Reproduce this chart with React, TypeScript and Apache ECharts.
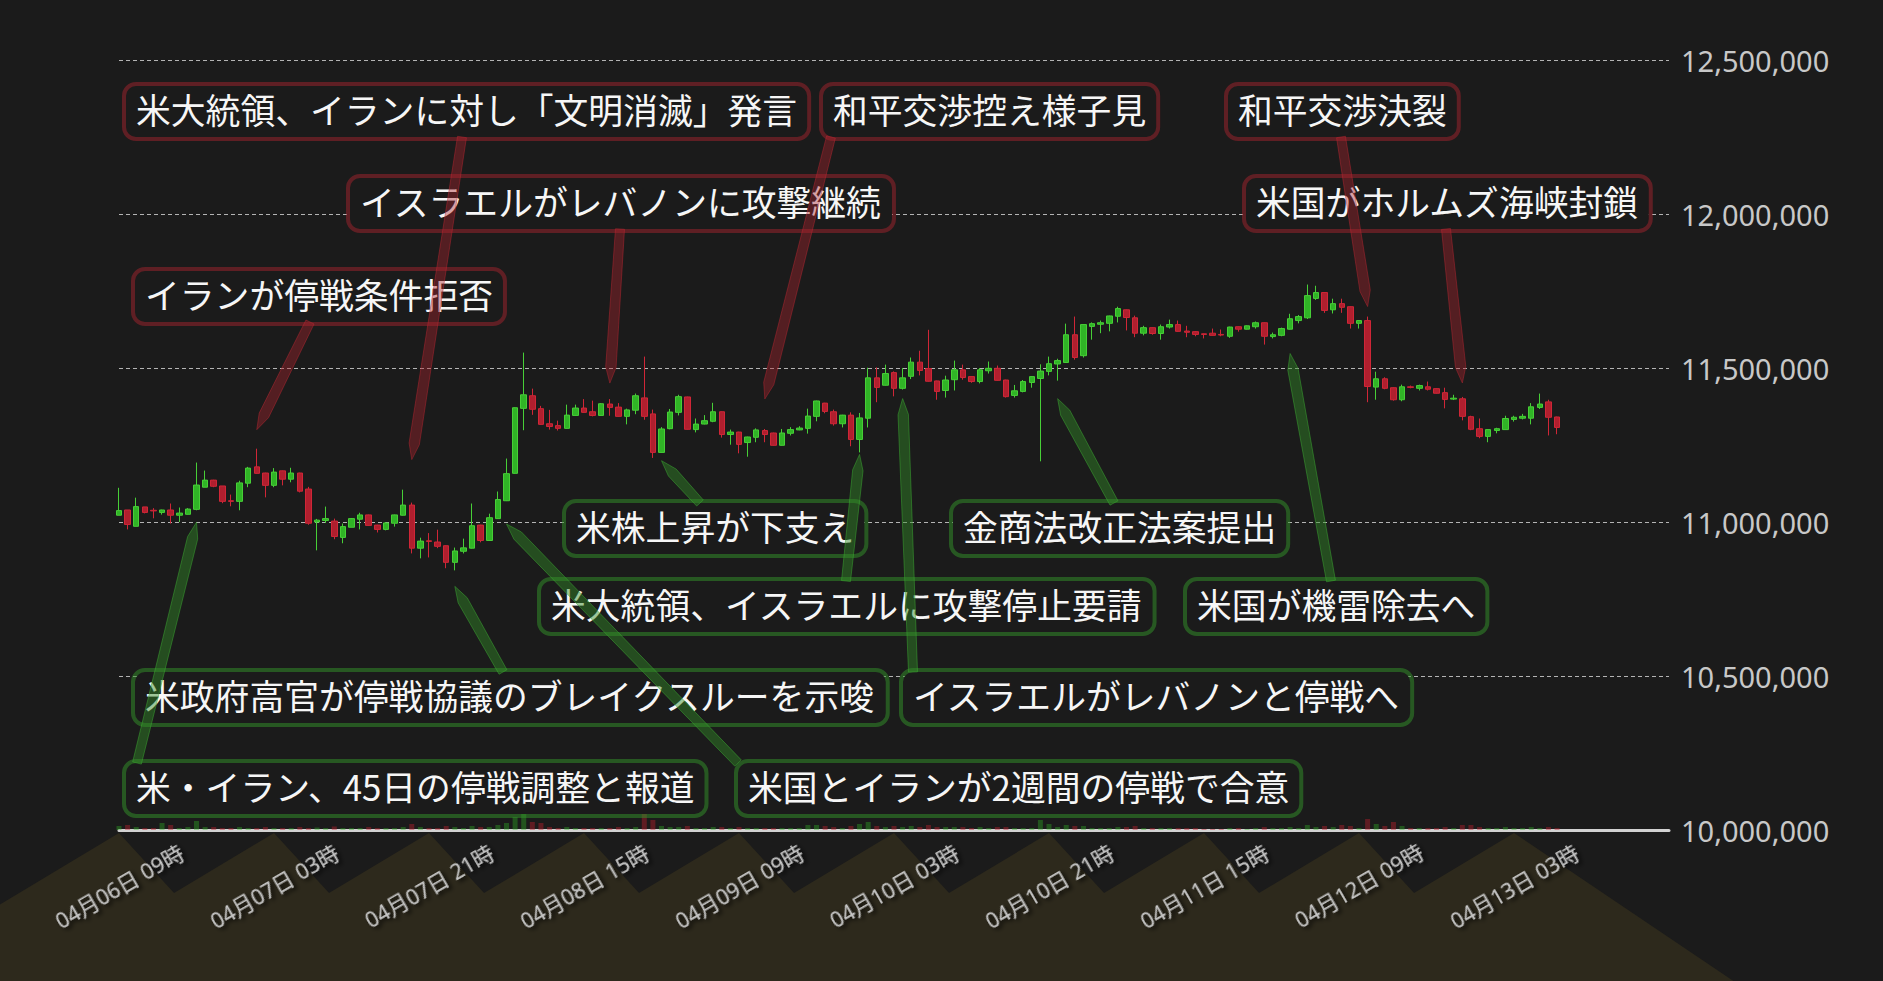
import React, { useEffect, useRef } from 'react';
import * as echarts from 'echarts';

// ---- time axis (hourly, JST) ----
const pad = (n: number) => (n < 10 ? '0' + n : '' + n);
const categories: string[] = [];
for (let k = 0; k <= 180; k++) {
  const d = new Date(Date.UTC(2026, 3, 6, 9 + k));
  categories.push(`${pad(d.getUTCMonth() + 1)}月${pad(d.getUTCDate())}日 ${pad(d.getUTCHours())}時`);
}
const labelEvery = 18;
const lastLabelIndex = 162;

// ---- price ticks ----
const yMin = 10000000;
const yMax = 12500000;
const yStep = 500000;

// ---- OHLC (thousand JPY) ----
const opens = [
  11022, 11039, 10986, 11049, 11038, 11031, 11039, 11022, 11025, 11041,
  11113, 11136, 11117, 11069, 11067, 11126, 11179, 11159, 11119, 11166,
  11139, 11159, 11107, 11000, 11005, 11003, 10950, 10983, 11009, 11023,
  10990, 10976, 10996, 11022, 11055, 10915, 10939, 10935, 10923, 10869,
  10905, 10915, 10990, 10940, 11011, 11069, 11158, 11369, 11410, 11368,
  11319, 11313, 11304, 11346, 11370, 11358, 11346, 11383, 11373, 11343,
  11363, 11403, 11351, 11226, 11303, 11356, 11406, 11300, 11318, 11327,
  11358, 11284, 11292, 11258, 11275, 11297, 11289, 11249, 11288, 11299,
  11304, 11343, 11386, 11358, 11319, 11347, 11268, 11337, 11468, 11444,
  11485, 11434, 11473, 11519, 11498, 11458, 11427, 11462, 11494, 11472,
  11456, 11491, 11499, 11461, 11411, 11424, 11453, 11466, 11489, 11513,
  11518, 11608, 11540, 11635, 11642, 11645, 11668, 11689, 11663, 11613,
  11631, 11612, 11633, 11641, 11620, 11618, 11611, 11613, 11609, 11603,
  11634, 11626, 11634, 11647, 11602, 11606, 11626, 11654, 11663, 11726,
  11745, 11689, 11709, 11699, 11645, 11654, 11438, 11465, 11436, 11397,
  11439, 11434, 11439, 11433, 11420, 11399, 11400, 11342, 11303, 11278,
  11297, 11300, 11333, 11337, 11337, 11372, 11390, 11341,
];
const closes = [
  11037, 10992, 11050, 11031, 11036, 11039, 11022, 11029, 11042, 11120,
  11136, 11116, 11067, 11067, 11127, 11175, 11158, 11119, 11162, 11139,
  11159, 11100, 10996, 11006, 11011, 10953, 10985, 11011, 11023, 10989,
  10976, 10997, 11023, 11055, 10915, 10938, 10937, 10921, 10869, 10906,
  10916, 10988, 10940, 11014, 11073, 11157, 11371, 11413, 11366, 11317,
  11310, 11304, 11347, 11370, 11356, 11346, 11384, 11372, 11343, 11364,
  11410, 11343, 11226, 11302, 11357, 11407, 11301, 11318, 11329, 11358,
  11284, 11292, 11252, 11276, 11299, 11284, 11249, 11289, 11300, 11305,
  11344, 11393, 11359, 11319, 11347, 11268, 11338, 11468, 11437, 11482,
  11434, 11468, 11519, 11492, 11457, 11424, 11461, 11494, 11469, 11456,
  11494, 11499, 11460, 11407, 11426, 11456, 11472, 11490, 11514, 11524,
  11608, 11534, 11641, 11644, 11647, 11669, 11693, 11664, 11613, 11631,
  11612, 11634, 11641, 11619, 11616, 11609, 11609, 11606, 11607, 11633,
  11626, 11637, 11647, 11603, 11608, 11628, 11660, 11667, 11735, 11745,
  11687, 11709, 11697, 11645, 11654, 11440, 11465, 11434, 11397, 11439,
  11437, 11443, 11431, 11418, 11398, 11402, 11343, 11301, 11278, 11300,
  11303, 11336, 11340, 11343, 11374, 11383, 11340, 11307,
];
const lows = [
  11022, 10976, 10986, 11028, 11012, 11024, 10995, 11000, 11024, 11038,
  11113, 11113, 11061, 11051, 11038, 11113, 11157, 11080, 11113, 11119,
  11129, 11096, 10991, 10908, 10997, 10944, 10931, 10983, 10976, 10988,
  10966, 10973, 10985, 11021, 10898, 10882, 10885, 10915, 10850, 10843,
  10898, 10914, 10934, 10939, 11010, 11068, 11157, 11298, 11348, 11316,
  11300, 11297, 11303, 11345, 11355, 11343, 11345, 11345, 11342, 11317,
  11350, 11332, 11208, 11225, 11301, 11346, 11300, 11291, 11317, 11324,
  11274, 11251, 11223, 11212, 11259, 11259, 11248, 11248, 11281, 11298,
  11287, 11327, 11353, 11313, 11307, 11246, 11226, 11307, 11389, 11443,
  11408, 11430, 11464, 11476, 11456, 11397, 11404, 11427, 11462, 11452,
  11450, 11482, 11459, 11404, 11404, 11421, 11436, 11197, 11476, 11459,
  11517, 11527, 11534, 11592, 11613, 11619, 11648, 11622, 11600, 11606,
  11608, 11592, 11628, 11618, 11600, 11603, 11596, 11605, 11603, 11598,
  11618, 11625, 11628, 11576, 11596, 11603, 11625, 11645, 11659, 11721,
  11679, 11677, 11679, 11628, 11628, 11389, 11397, 11431, 11394, 11392,
  11434, 11427, 11427, 11417, 11369, 11396, 11330, 11298, 11272, 11259,
  11288, 11299, 11326, 11333, 11317, 11367, 11281, 11285,
];
const highs = [
  11111, 11039, 11079, 11049, 11045, 11040, 11060, 11047, 11045, 11193,
  11167, 11137, 11117, 11089, 11134, 11179, 11238, 11160, 11175, 11167,
  11176, 11160, 11114, 11010, 11050, 11011, 10995, 11013, 11030, 11024,
  10991, 10999, 11024, 11105, 11063, 10949, 10964, 10975, 10924, 10917,
  10946, 11060, 10991, 11027, 11099, 11206, 11372, 11550, 11433, 11377,
  11364, 11329, 11381, 11381, 11399, 11394, 11386, 11399, 11386, 11368,
  11417, 11537, 11365, 11308, 11367, 11413, 11407, 11336, 11347, 11387,
  11359, 11300, 11293, 11277, 11304, 11302, 11290, 11302, 11308, 11311,
  11368, 11394, 11387, 11365, 11348, 11356, 11354, 11501, 11502, 11511,
  11489, 11500, 11534, 11556, 11624, 11459, 11475, 11524, 11511, 11473,
  11500, 11521, 11508, 11462, 11445, 11461, 11473, 11512, 11537, 11530,
  11644, 11667, 11642, 11648, 11654, 11670, 11699, 11690, 11670, 11637,
  11632, 11641, 11657, 11654, 11637, 11620, 11612, 11628, 11625, 11634,
  11635, 11638, 11651, 11648, 11615, 11631, 11676, 11672, 11771, 11767,
  11746, 11725, 11725, 11700, 11655, 11667, 11488, 11470, 11437, 11446,
  11443, 11446, 11456, 11434, 11436, 11413, 11406, 11345, 11336, 11301,
  11306, 11345, 11345, 11351, 11386, 11417, 11397, 11342,
];
// ---- hourly volume ----
const volumes = [
  40, 50, 30, 20, 20, 70, 50, 20, 30, 90,
  30, 30, 20, 20, 30, 20, 20, 30, 20, 20,
  20, 30, 20, 25, 20, 35, 20, 20, 20, 30,
  20, 20, 20, 30, 60, 30, 20, 20, 40, 30,
  20, 40, 30, 30, 50, 70, 130, 190, 80, 70,
  30, 20, 30, 20, 20, 20, 20, 20, 30, 20,
  30, 170, 100, 40, 30, 30, 40, 20, 20, 30,
  30, 20, 30, 20, 20, 20, 20, 20, 20, 20,
  50, 50, 40, 30, 20, 40, 60, 80, 40, 30,
  40, 30, 40, 30, 50, 30, 30, 30, 30, 20,
  30, 20, 30, 30, 20, 20, 20, 100, 60, 30,
  50, 40, 40, 20, 20, 20, 30, 30, 40, 20,
  20, 20, 20, 20, 20, 20, 10, 10, 10, 20,
  20, 10, 20, 30, 20, 20, 30, 20, 50, 30,
  40, 30, 50, 40, 20, 110, 60, 40, 80, 40,
  20, 20, 20, 20, 30, 20, 50, 50, 30, 20,
  20, 30, 20, 20, 30, 20, 30, 20,
];

// ---- news annotations ----
type Note = { text: string; tone: 'neg' | 'pos'; idx: number; gap: number; box: [number, number]; anchor: number };
const notes: Note[] = [
  { text: '米大統領、イランに対し「文明消滅」発言', tone: 'neg', idx: 34, gap: 43, box: [124, 84], anchor: 338 },
  { text: 'イスラエルがレバノンに攻撃継続', tone: 'neg', idx: 57, gap: 16, box: [348, 176], anchor: 272 },
  { text: '和平交渉控え様子見', tone: 'neg', idx: 75, gap: 30, box: [821, 84], anchor: 10 },
  { text: 'イランが停戦条件拒否', tone: 'neg', idx: 16, gap: 19, box: [133, 269], anchor: 177 },
  { text: '和平交渉決裂', tone: 'neg', idx: 145, gap: 10, box: [1226, 84], anchor: 115 },
  { text: '米国がホルムズ海峡封鎖', tone: 'neg', idx: 156, gap: 14, box: [1244, 176], anchor: 202 },
  { text: '米株上昇が下支え', tone: 'pos', idx: 63, gap: 8, box: [564, 501], anchor: 136 },
  { text: '金商法改正法案提出', tone: 'pos', idx: 109, gap: 18, box: [951, 501], anchor: 163 },
  { text: '米大統領、イスラエルに攻撃停止要請', tone: 'pos', idx: 86, gap: 2, box: [539, 579], anchor: 307 },
  { text: '米国が機雷除去へ', tone: 'pos', idx: 136, gap: 24, box: [1185, 579], anchor: 146 },
  { text: '米政府高官が停戦協議のブレイクスルーを示唆', tone: 'pos', idx: 39, gap: 16, box: [133, 670], anchor: 370 },
  { text: 'イスラエルがレバノンと停戦へ', tone: 'pos', idx: 91, gap: 9, box: [901, 670], anchor: 12 },
  { text: '米・イラン、45日の停戦調整と報道', tone: 'pos', idx: 9, gap: 12, box: [124, 761], anchor: 13 },
  { text: '米国とイランが2週間の停戦で合意', tone: 'pos', idx: 45, gap: 23, box: [736, 761], anchor: 2 },
];

const BG = '#1b1b1b';
const UP = '#30b426';
const UP_B = '#47cf37';
const DN = '#b01f2e';
const DN_B = '#d02637';
const LATIN = "'Noto Sans', 'Noto Sans CJK JP', sans-serif";
const CJK = "'Noto Sans CJK JP', 'Noto Sans', sans-serif";

export default function App() {
  const ref = useRef<HTMLDivElement>(null);
  useEffect(() => {
    if (!ref.current) return;
    const chart = echarts.init(ref.current, undefined, { renderer: 'svg' });
    const ohlc = opens.map((o, i) => [o * 1000, closes[i] * 1000, lows[i] * 1000, highs[i] * 1000]);
    const vol = volumes.map((v, i) => ({
      value: v,
      itemStyle: { color: closes[i] >= opens[i] ? 'rgba(48,180,38,0.38)' : 'rgba(190,31,46,0.42)' },
    }));
    chart.setOption({
      animation: false,
      backgroundColor: BG,
      grid: { left: 119, right: 214, top: 60, bottom: 151 },
      xAxis: {
        type: 'category',
        data: categories,
        boundaryGap: false,
        axisLine: { lineStyle: { color: '#d2d2d2', width: 3 } },
        axisTick: { show: false },
        splitLine: { show: false },
        axisLabel: {
          interval: (i: number) => i % labelEvery === 0 && i <= lastLabelIndex,
          rotate: 30,
          align: 'center',
          verticalAlign: 'middle',
          margin: 56,
          color: '#c6c6c6',
          fontSize: 21.5,
          fontFamily: LATIN,
          textShadowColor: 'rgba(0,0,0,0.9)',
          textShadowBlur: 4,
          textShadowOffsetX: 2,
          textShadowOffsetY: 3,
        },
      },
      yAxis: [
        {
          type: 'value',
          position: 'right',
          min: yMin,
          max: yMax,
          interval: yStep,
          axisLine: { show: false },
          axisTick: { show: false },
          axisLabel: {
            margin: 12,
            color: '#c8c8c8',
            fontSize: 29,
            fontFamily: LATIN,
            formatter: (v: number) => v.toLocaleString('en-US'),
          },
          splitLine: { lineStyle: { color: '#b4b4b4', width: 1, type: [4, 3] } },
        },
        { type: 'value', min: 0, max: 7700, show: false, splitLine: { show: false } },
      ],
      series: [
        {
          type: 'bar',
          yAxisIndex: 1,
          data: vol,
          barWidth: 5,
          silent: true,
          z: 1,
        },
        {
          type: 'candlestick',
          data: ohlc,
          barWidth: 6,
          z: 3,
          itemStyle: { color: UP, color0: DN, borderColor: UP_B, borderColor0: DN_B, borderWidth: 1 },
        },
      ],
    });

    const toPx = (i: number, v: number) =>
      chart.convertToPixel({ xAxisIndex: 0, yAxisIndex: 0 }, [i, v]) as number[];

    // decorative olive band under the time axis
    const axisY = toPx(0, yMin)[1];
    const peakY = axisY + 3;
    const peaks: number[] = [];
    for (let i = 0; i <= lastLabelIndex; i += labelEvery) peaks.push(toPx(i, yMin)[0]);
    const H = 981;
    const sL = Math.tan((31 * Math.PI) / 180);
    const sR = Math.tan((47.5 * Math.PI) / 180);
    const sEnd = Math.tan((34 * Math.PI) / 180);
    const band: number[][] = [[0, H], [0, peakY + peaks[0] * sL]];
    peaks.forEach((x, k) => {
      band.push([x, peakY]);
      if (k < peaks.length - 1) {
        const d = peaks[k + 1] - x;
        const a = (d * sL) / (sR + sL);
        band.push([x + a, peakY + a * sR]);
      }
    });
    const lastX = peaks[peaks.length - 1];
    band.push([lastX + (H - peakY) / sEnd, H]);

    const elements: any[] = [
      { type: 'polygon', z: -1, silent: true, shape: { points: band }, style: { fill: 'rgb(45,41,28)' } },
    ];
    const BOX_H = 55;
    notes.forEach((n) => {
      const neg = n.tone === 'neg';
      elements.push({
        type: 'text',
        x: n.box[0] + 2,
        y: n.box[1] + 2,
        z: 20,
        silent: true,
        style: {
          text: n.text,
          fill: '#f6f6f6',
          fontSize: 34.8,
          fontFamily: CJK,
          lineHeight: 37,
          backgroundColor: BG,
          borderColor: neg ? 'rgba(170,35,45,0.48)' : 'rgba(52,145,42,0.52)',
          borderWidth: 4,
          borderRadius: 10,
          padding: [4, 10, 10, 10],
        },
      });
    });
    notes.forEach((n) => {
      const neg = n.tone === 'neg';
      const sx = n.box[0] + n.anchor;
      const sy = neg ? n.box[1] + BOX_H - 2 : n.box[1] + 2;
      const p = toPx(n.idx, neg ? highs[n.idx] * 1000 : lows[n.idx] * 1000);
      const tx = p[0];
      const ty = neg ? p[1] - n.gap : p[1] + n.gap;
      const dx = tx - sx;
      const dy = ty - sy;
      const len = Math.hypot(dx, dy);
      const ux = dx / len;
      const uy = dy / len;
      const nx = -uy;
      const ny = ux;
      const w = 4.5;
      const ws = 5.2;
      const head = 16;
      const hx = tx - ux * head;
      const hy = ty - uy * head;
      elements.push({
        type: 'polygon',
        z: 21,
        silent: true,
        shape: {
          points: [
            [sx + nx * w, sy + ny * w],
            [hx + nx * ws, hy + ny * ws],
            [tx, ty],
            [hx - nx * ws, hy - ny * ws],
            [sx - nx * w, sy - ny * w],
          ],
        },
        style: neg
          ? { fill: 'rgba(170,35,45,0.40)', stroke: 'rgba(190,40,50,0.45)', lineWidth: 1 }
          : { fill: 'rgba(50,140,40,0.45)', stroke: 'rgba(60,170,50,0.5)', lineWidth: 1 },
      });
    });
    chart.setOption({ graphic: { elements } });

    return () => chart.dispose();
  }, []);
  return <div ref={ref} style={{ position: 'fixed', left: 0, top: 0, width: 1883, height: 981 }} />;
}
